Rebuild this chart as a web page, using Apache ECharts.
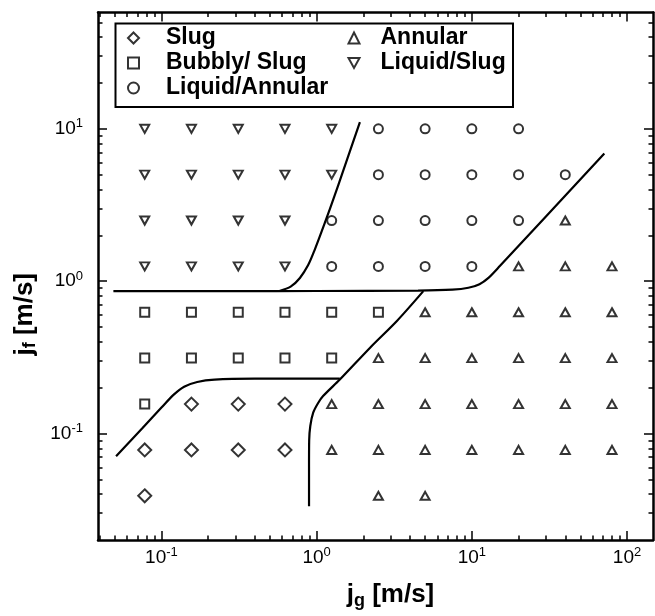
<!DOCTYPE html>
<html>
<head>
<meta charset="utf-8">
<script src="https://cdn.jsdelivr.net/npm/echarts@6/dist/echarts.min.js"></script>
<style>
html, body { margin: 0; padding: 0; background: #fff; }
#chart { width: 655px; height: 616px; }
</style>
</head>
<body>
<div id="chart"></div>
<script>
// regime points, [jg, jf] in m/s
var slugPts = [[0.156,0.156],[0.3125,0.156],[0.625,0.156],
    [0.078,0.078],[0.156,0.078],[0.3125,0.078],[0.625,0.078],
    [0.078,0.039]];
var bubblySlugPts = [[0.078,0.625],[0.156,0.625],[0.3125,0.625],[0.625,0.625],[1.25,0.625],[2.5,0.625],
    [0.078,0.3125],[0.156,0.3125],[0.3125,0.3125],[0.625,0.3125],[1.25,0.3125],
    [0.078,0.156]];
var liquidAnnularPts = [[2.5,10],[5,10],[10,10],[20,10],
    [2.5,5],[5,5],[10,5],[20,5],[40,5],
    [1.25,2.5],[2.5,2.5],[5,2.5],[10,2.5],[20,2.5],
    [1.25,1.25],[2.5,1.25],[5,1.25],[10,1.25]];
var annularPts = [[40,2.5],
    [20,1.25],[40,1.25],[80,1.25],
    [5,0.625],[10,0.625],[20,0.625],[40,0.625],[80,0.625],
    [2.5,0.3125],[5,0.3125],[10,0.3125],[20,0.3125],[40,0.3125],[80,0.3125],
    [1.25,0.156],[2.5,0.156],[5,0.156],[10,0.156],[20,0.156],[40,0.156],[80,0.156],
    [1.25,0.078],[2.5,0.078],[5,0.078],[10,0.078],[20,0.078],[40,0.078],[80,0.078],
    [2.5,0.039],[5,0.039]];
var liquidSlugPts = [[0.078,10],[0.156,10],[0.3125,10],[0.625,10],[1.25,10],
    [0.078,5],[0.156,5],[0.3125,5],[0.625,5],[1.25,5],
    [0.078,2.5],[0.156,2.5],[0.3125,2.5],[0.625,2.5],
    [0.078,1.25],[0.156,1.25],[0.3125,1.25],[0.625,1.25]];

// transition boundaries
var lineH = [[0.049,0.86],[0.3,0.86],[1,0.862],[4.5,0.868],[7.5,0.88],[9.5,0.905],[11.2,0.955],[12.8,1.05],[15.2,1.26],[71.4,6.89]];
var lineA = [[0.575,0.862],[0.68,0.92],[0.78,1.05],[0.88,1.27],[0.97,1.6],[1.13,2.42],[1.3,3.6],[1.48,5.27],[1.9,11.05]];
var lineC = [[0.051,0.071],[0.075,0.108],[0.1,0.148],[0.12,0.18],[0.14,0.203],[0.17,0.218],[0.22,0.226],[0.4,0.229],[1.41,0.229]];
var lineD = [[0.893,0.0333],[0.893,0.06],[0.895,0.09],[0.91,0.112],[0.95,0.137],[1.02,0.158],[1.1,0.176],[1.41,0.226],[2.21,0.366],[3.3,0.55],[4.87,0.86]];

var xMajor = [0.1, 1, 10, 100];
var xMinor = [0.04,0.05,0.06,0.07,0.08,0.09,0.2,0.3,0.4,0.5,0.6,0.7,0.8,0.9,2,3,4,5,6,7,8,9,20,30,40,50,60,70,80,90];
var yMajor = [0.1, 1, 10];
var yMinor = [0.03,0.04,0.05,0.06,0.07,0.08,0.09,0.2,0.3,0.4,0.5,0.6,0.7,0.8,0.9,2,3,4,5,6,7,8,9,20,30,40,50];

var FONT = '"Liberation Sans", Arial, Helvetica, sans-serif';
var DOWN_TRI = 'path://M0,0L10,0L5,9Z';
var chart = echarts.init(document.getElementById('chart'));

function powLabel(v) {
    var e = Math.round(Math.log(v) / Math.LN10);
    return '{b|10}{s|' + e + '}';
}
var powRich = {
    b: {fontSize: 19, color: '#000', fontFamily: FONT},
    s: {fontSize: 13, color: '#000', fontFamily: FONT, padding: [0, 0, 10, 0]}
};

function logAxis(pos, range, major, minor, withLabel, isMinor) {
    return {
        type: 'log',
        position: pos,
        min: range[0],
        max: range[1],
        axisLine: {show: !isMinor, lineStyle: {color: '#000', width: 2.5}},
        axisTick: {
            show: true,
            inside: true,
            length: isMinor ? 4.5 : 9,
            customValues: isMinor ? minor : major,
            lineStyle: {color: '#000', width: 1.5}
        },
        axisLabel: withLabel ? {
            show: true,
            customValues: major,
            formatter: powLabel,
            rich: powRich,
            margin: (pos === 'bottom') ? 6 : 15
        } : {show: false},
        splitLine: {show: false}
    };
}

var titleRich = {
    j: {fontSize: 26, fontWeight: 'bold', color: '#000', fontFamily: FONT},
    sub: {fontSize: 18, fontWeight: 'bold', color: '#000', fontFamily: FONT, padding: [12, 0, 0, 0]},
    t: {fontSize: 26, fontWeight: 'bold', color: '#000', fontFamily: FONT}
};

var xRange = [0.039, 147];
var yRange = [0.02, 58];

var xMain = logAxis('bottom', xRange, xMajor, xMinor, true, false);
xMain.name = '{j|j}{sub|g}{t| [m/s]}';
xMain.nameLocation = 'middle';
xMain.nameGap = 40;
xMain.nameTextStyle = {padding: [0, 0, 0, 30], rich: titleRich};

var yMain = logAxis('left', yRange, yMajor, yMinor, true, false);
yMain.name = '{j|j}{sub|f}{t| [m/s]}';
yMain.nameLocation = 'middle';
yMain.nameGap = 54;
yMain.nameTextStyle = {padding: [0, 76, 0, 0], rich: titleRich};

function pointSeries(name, data, symbol, size) {
    return {
        name: name,
        type: 'scatter',
        data: data,
        symbol: symbol,
        symbolSize: size,
        itemStyle: {color: 'transparent', borderColor: '#000', borderWidth: 2},
        emphasis: {disabled: true},
        z: 3
    };
}
function lineSeries(data) {
    return {
        type: 'line',
        data: data,
        symbol: 'none',
        smooth: 0.3,
        lineStyle: {color: '#000', width: 2.2},
        silent: true,
        z: 2
    };
}

var legendText = {fontSize: 23, fontWeight: 'bold', color: '#000', fontFamily: FONT, lineHeight: 25};

var option = {
    animation: false,
    grid: {left: 98, right: 2, top: 12.5, bottom: 76},
    graphic: [{
        type: 'rect',
        shape: {x: 115.5, y: 23.5, width: 397.5, height: 83.5},
        style: {fill: 'none', stroke: '#000', lineWidth: 2},
        silent: true,
        z: 1
    }],
    legend: [{
        orient: 'vertical',
        left: 127,
        top: 25.5,
        padding: 0,
        itemGap: 0,
        itemWidth: 11,
        itemHeight: 11,
        selectedMode: false,
        textStyle: Object.assign({padding: [0, 0, 0, 22]}, legendText),
        data: ['Slug', 'Bubbly/ Slug', 'Liquid/Annular']
    }, {
        orient: 'vertical',
        left: 347.5,
        top: 25.5,
        padding: 0,
        itemGap: 0,
        itemWidth: 11,
        itemHeight: 11,
        selectedMode: false,
        textStyle: Object.assign({padding: [0, 0, 0, 16]}, legendText),
        data: ['Annular', 'Liquid/Slug']
    }],
    xAxis: [
        xMain,
        logAxis('bottom', xRange, xMajor, xMinor, false, true),
        logAxis('top', xRange, xMajor, xMinor, false, false),
        logAxis('top', xRange, xMajor, xMinor, false, true)
    ],
    yAxis: [
        yMain,
        logAxis('left', yRange, yMajor, yMinor, false, true),
        logAxis('right', yRange, yMajor, yMinor, false, false),
        logAxis('right', yRange, yMajor, yMinor, false, true)
    ],
    series: [
        pointSeries('Slug', slugPts, 'diamond', 13),
        pointSeries('Bubbly/ Slug', bubblySlugPts, 'rect', 9),
        pointSeries('Liquid/Annular', liquidAnnularPts, 'circle', 9),
        pointSeries('Annular', annularPts, 'triangle', [9, 8]),
        pointSeries('Liquid/Slug', liquidSlugPts, DOWN_TRI, [9, 8]),
        lineSeries(lineH),
        lineSeries(lineA),
        lineSeries(lineC),
        lineSeries(lineD)
    ]
};

chart.setOption(option);
</script>
</body>
</html>
